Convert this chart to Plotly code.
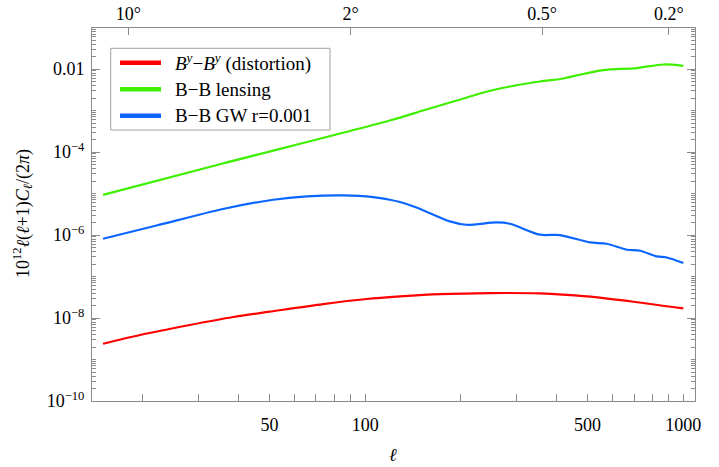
import math
import plotly.graph_objects as go

# ---------------- data ----------------
ell_distortion = [15, 19.6, 28.1, 38.5, 50.1, 73.8, 101, 128.6, 172, 247, 354, 497, 697, 1000]
cl_distortion = [2.40e-9, 3.89e-9, 6.78e-9, 1.057e-8, 1.42e-8, 2.17e-8, 2.87e-8, 3.32e-8,
                 3.78e-8, 4.00e-8, 3.92e-8, 3.32e-8, 2.47e-8, 1.70e-8]

ell_lensing = [15, 35.7, 119.6, 152, 194, 247, 285, 354, 420, 462, 560, 713, 865, 1000]
cl_lensing = [9.3e-6, 5.3e-5, 5.77e-4, 1.0e-3, 1.75e-3, 3.0e-3, 3.81e-3, 5.02e-3,
              5.94e-3, 7.02e-3, 9.46e-3, 1.057e-2, 1.29e-2, 1.20e-2]

ell_gw = [15, 22.1, 35.7, 51.4, 65.5, 85.3, 106, 119.6, 128.6, 145, 184.6, 208, 259, 285,
          354, 409, 509, 574, 664, 731, 825, 887, 1000]
cl_gw = [8.15e-7, 1.70e-6, 4.24e-6, 7.10e-6, 8.53e-6, 9.02e-6, 8.24e-6, 7.10e-6, 6.24e-6,
         4.62e-6, 2.13e-6, 1.77e-6, 2.01e-6, 1.87e-6, 1.02e-6, 1.00e-6, 6.64e-7, 6.17e-7,
         4.43e-7, 4.19e-7, 3.05e-7, 2.88e-7, 2.11e-7]

series_names = ["<i>B</i><sup><i>y</i></sup>\u2212<i>B</i><sup><i>y</i></sup> (distortion)",
                "B\u2212B lensing",
                "B\u2212B GW r=0.001"]
series_colors = ["#FF0000", "#3EF000", "#0A66FF"]

x_tick_vals = [50, 100, 500, 1000]
x_tick_text = ["50", "100", "500", "1000"]
y_tick_vals = [1e-10, 1e-8, 1e-6, 1e-4, 1e-2]
y_tick_text = ["10<sup>\u221210</sup>", "10<sup>\u22128</sup>", "10<sup>\u22126</sup>",
               "10<sup>\u22124</sup>", "0.01"]
top_angles_deg = [10, 2, 0.5, 0.2]
top_tick_text = ["10\u00b0", "2\u00b0", "0.5\u00b0", "0.2\u00b0"]

# ---------------- figure ----------------
W, H = 719, 467
L, R, T, B = 92, 695, 28, 401
FONT = "Liberation Serif"
AX = "#8c8c8c"

fig = go.Figure()
for xs, ys, c in [(ell_distortion, cl_distortion, series_colors[0]),
                  (ell_lensing, cl_lensing, series_colors[1]),
                  (ell_gw, cl_gw, series_colors[2])]:
    fig.add_trace(go.Scatter(x=xs, y=ys, mode="lines", showlegend=False,
                             line=dict(color=c, width=2.2, shape="spline", smoothing=0.8)))

# invisible trace to activate the top (angle) axis
fig.add_trace(go.Scatter(x=[100], y=[1e-5], xaxis="x2", mode="markers",
                         marker=dict(opacity=0), showlegend=False, hoverinfo="skip"))

xr = [math.log10(13.85), math.log10(1088)]
x_minor = [k * 10 ** n for n in (1, 2) for k in range(2, 10)]
y_minor = [k * 10.0 ** n for n in range(-10, -1) for k in range(1, 10)]

fig.update_layout(
    width=W, height=H,
    margin=dict(l=L, r=W - R, t=T, b=H - B, autoexpand=False),
    paper_bgcolor="white", plot_bgcolor="white",
    font=dict(family=FONT, size=18, color="black"),
    showlegend=False,
    xaxis=dict(type="log", range=xr, showgrid=False, zeroline=False, automargin=False,
               showline=True, linecolor=AX, linewidth=1, mirror=True,
               tickmode="array", tickvals=x_tick_vals, ticktext=x_tick_text,
               ticks="inside", ticklen=7, tickcolor=AX, ticklabelstandoff=7,
               tickfont=dict(family=FONT, size=18, color="black"),
               minor=dict(tickmode="array", tickvals=x_minor, ticks="inside",
                          ticklen=7, tickcolor=AX, showgrid=False)),
    xaxis2=dict(type="log", range=xr, overlaying="x", side="top", showgrid=False,
                zeroline=False, showline=False, automargin=False,
                tickmode="array", tickvals=[180.0 / a for a in top_angles_deg],
                ticktext=top_tick_text, ticks="inside", ticklen=7, tickcolor=AX,
                ticklabelstandoff=3,
                tickfont=dict(family=FONT, size=18, color="black")),
    yaxis=dict(type="log", range=[-10, -1.01], showgrid=False, zeroline=False,
               automargin=False,
               showline=True, linecolor=AX, linewidth=1, mirror="ticks",
               tickmode="array", tickvals=y_tick_vals, ticktext=y_tick_text,
               ticks="inside", ticklen=8, tickcolor=AX, ticklabelstandoff=3,
               tickfont=dict(family=FONT, size=18, color="black"),
               minor=dict(tickmode="array", tickvals=y_minor, ticks="inside",
                          ticklen=4, tickcolor=AX, showgrid=False)),
)

def px(x):
    return (x - L) / (R - L)

def py(y):
    return (B - y) / (B - T)

# legend box drawn manually (Mathematica style)
fig.add_shape(type="rect", xref="paper", yref="paper",
              x0=px(110.7), x1=px(330), y0=py(130), y1=py(48.3),
              line=dict(color="#a0a0a0", width=1), fillcolor="white", layer="above")
for i, (name, c) in enumerate(zip(series_names, series_colors)):
    yy = 62.7 + i * 26.5
    fig.add_shape(type="line", xref="paper", yref="paper",
                  x0=px(120), x1=px(161), y0=py(yy), y1=py(yy),
                  line=dict(color=c, width=4.5), layer="above")
    fig.add_annotation(xref="paper", yref="paper", x=px(173), y=py(yy),
                       xanchor="left", yanchor="middle", showarrow=False,
                       text=name, font=dict(family=FONT, size=19, color="black"))

# axis titles
fig.add_annotation(xref="paper", yref="paper", x=px(22), y=py(214), textangle=-90,
                   xanchor="center", yanchor="middle", showarrow=False,
                   text="10<sup>12</sup><i>\u2113</i>(<i>\u2113</i>+1)<i>C</i><sub><i>\u2113</i></sub>/(2<i>\u03c0</i>)",
                   font=dict(family=FONT, size=18, color="black"))
fig.add_annotation(xref="paper", yref="paper", x=px(393), y=py(455),
                   xanchor="center", yanchor="middle", showarrow=False,
                   text="<i>\u2113</i>", font=dict(family=FONT, size=18, color="black"))

fig.write_html("out.html")
